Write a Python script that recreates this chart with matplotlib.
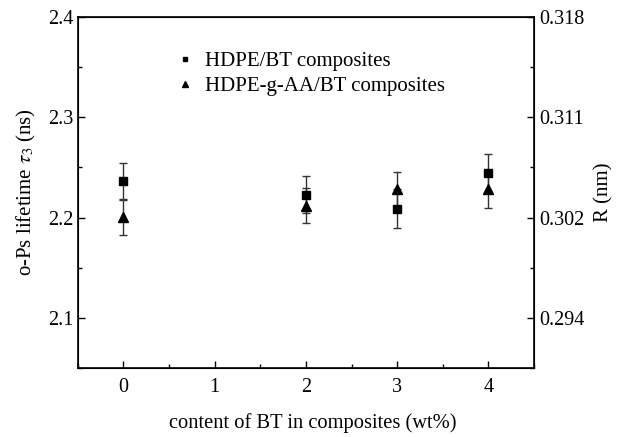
import numpy as np
import matplotlib
matplotlib.use("Agg")
import matplotlib.pyplot as plt
from matplotlib.ticker import MultipleLocator

plt.rcParams['font.family'] = ['Liberation Serif', 'DejaVu Serif']
plt.rcParams['mathtext.fontset'] = 'stix'

# données
bt = [0, 2, 3, 4]
tau_hdpe = [2.236, 2.223, 2.209, 2.244]
err_hdpe = [0.018, 0.018, 0.019, 0.019]
tau_aa = [2.201, 2.212, 2.228, 2.228]
err_aa = [0.018, 0.017, 0.017, 0.018]

yticks = [2.1, 2.2, 2.3, 2.4]
r_labels = ["0.294", "0.302", "0.311", "0.318"]
noms = ["HDPE/BT composites", "HDPE-g-AA/BT composites"]

fig = plt.figure(figsize=(6.18, 4.37), dpi=100)
ax = fig.add_axes([0.126, 0.158, 0.738, 0.803])

h1 = ax.errorbar(bt, tau_hdpe, yerr=err_hdpe, fmt='s', color='black', ms=6,
                 ecolor='#333333', elinewidth=1, capsize=3, capthick=1)
h2 = ax.errorbar(bt, tau_aa, yerr=err_aa, fmt='^', color='black', ms=7,
                 ecolor='#333333', elinewidth=1, capsize=3, capthick=1)

ax.set_xlim(-0.5, 4.5)
ax.set_ylim(2.05, 2.4)
ax.set_xticks([0, 1, 2, 3, 4])
ax.set_yticks(yticks)
ax.xaxis.set_minor_locator(MultipleLocator(0.5))
ax.yaxis.set_minor_locator(MultipleLocator(0.05))
ax.tick_params(which='both', direction='in', top=False, labelsize=14.5)
ax.tick_params(axis='x', pad=7)
ax.tick_params(which='major', length=5, width=1)
ax.tick_params(which='minor', length=3, width=1)
for s in ax.spines.values():
    s.set_linewidth(1.2)

ax.set_xlabel("content of BT in composites (wt%)", fontsize=14.8)
ax.xaxis.set_label_coords(0.515, -0.13)
ax.set_ylabel(r"o-Ps lifetime $\tau_3$ (ns)", fontsize=15, labelpad=7)

ax2 = ax.twinx()
ax2.set_ylim(ax.get_ylim())
ax2.set_yticks(yticks)
ax2.set_yticklabels(r_labels)
ax2.yaxis.set_minor_locator(MultipleLocator(0.05))
ax2.tick_params(which='both', direction='in', labelsize=14.5)
ax2.tick_params(which='major', length=5, width=1)
ax2.tick_params(which='minor', length=3, width=1)
ax2.set_ylabel("R (nm)", fontsize=15, labelpad=7)

ax.legend([h1[0], h2[0]], noms, loc='upper left', bbox_to_anchor=(0.17, 0.955),
          frameon=False, fontsize=15, handletextpad=0.5, markerscale=0.6,
          labelspacing=0.25, handlelength=1.0)

fig.savefig("out.png", dpi=100)
